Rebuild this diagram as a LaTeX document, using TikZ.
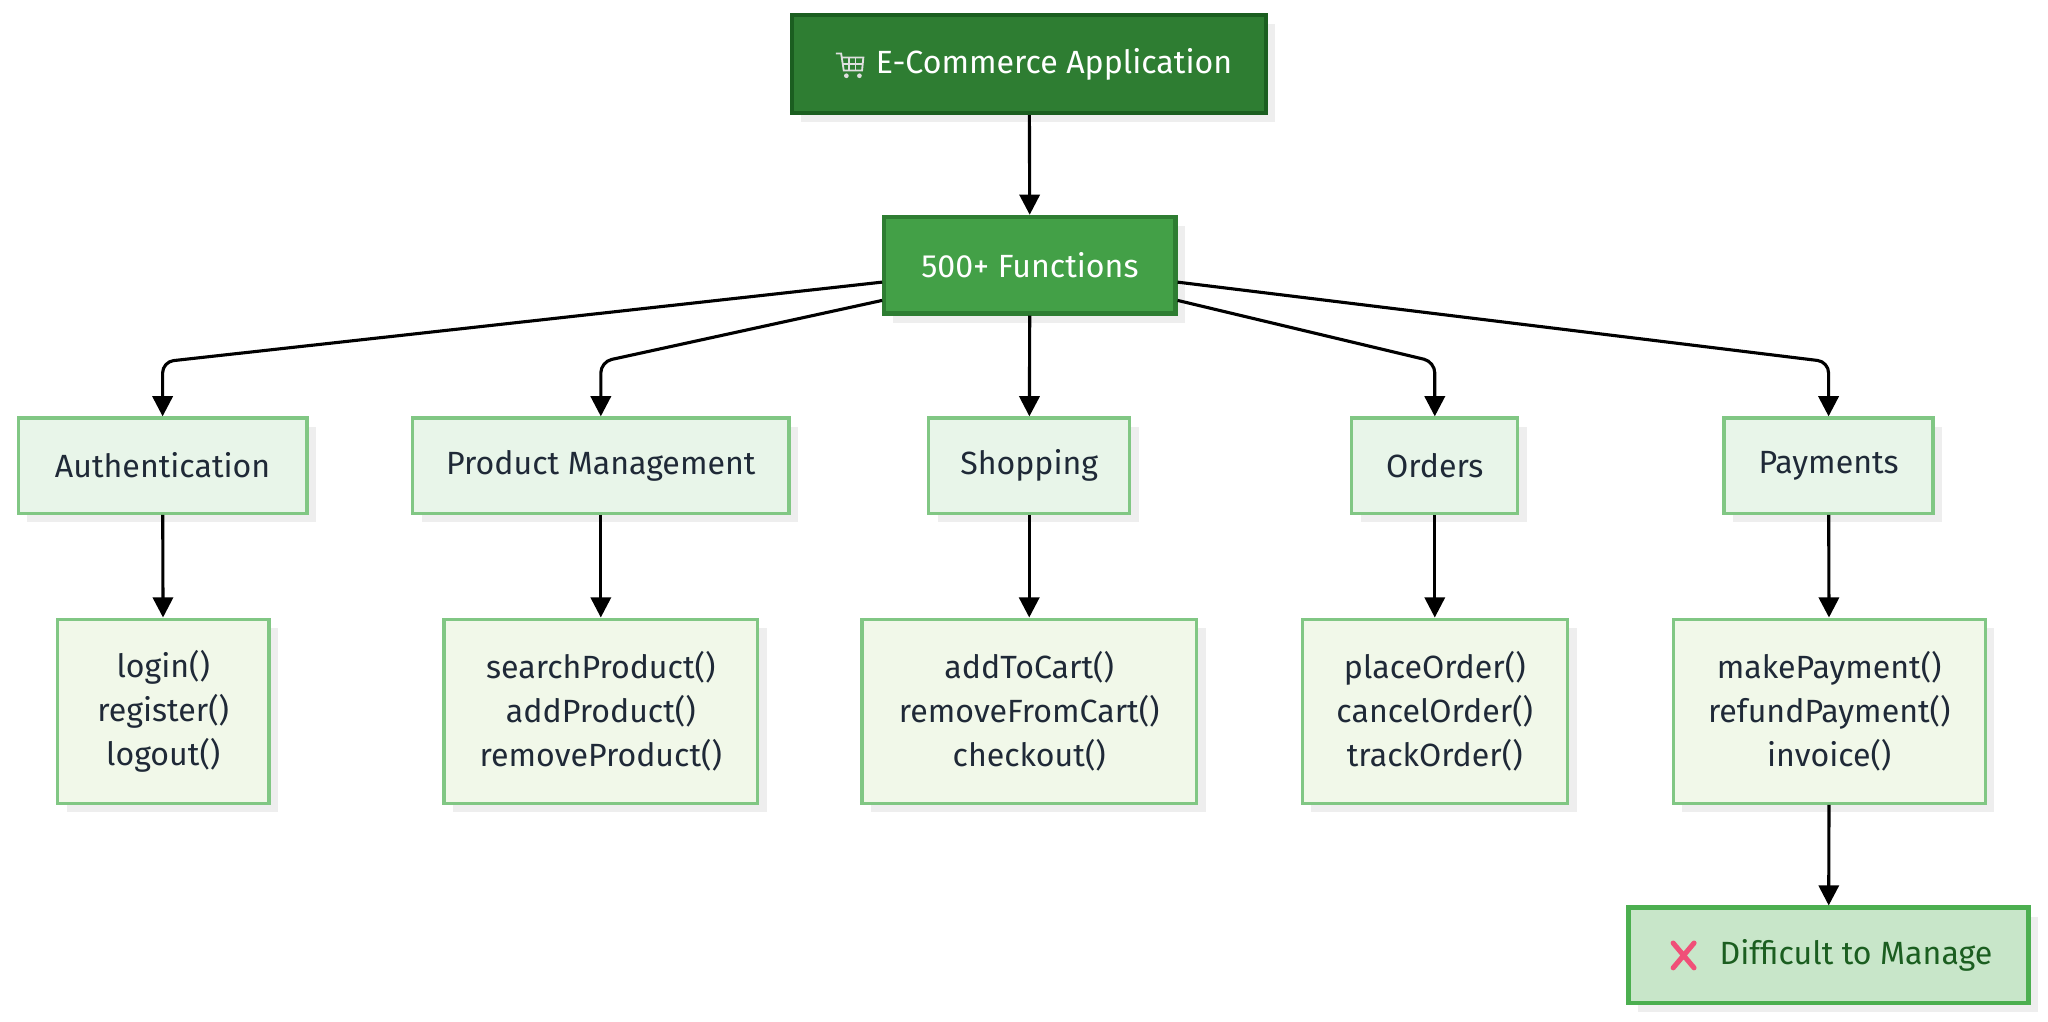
\documentclass[tikz,border=0pt]{standalone}
\usepackage{fontspec}
\setmainfont{Fira Sans}
\usetikzlibrary{calc,arrows.meta}
\definecolor{dg}{HTML}{2E7D32}
\definecolor{dgb}{HTML}{1B5E20}
\definecolor{mg}{HTML}{43A047}
\definecolor{lb}{HTML}{81C784}
\definecolor{l1}{HTML}{E8F5E9}
\definecolor{l2}{HTML}{F1F8E9}
\definecolor{l3}{HTML}{C8E6C9}
\definecolor{l3b}{HTML}{4CAF50}
\definecolor{tx}{HTML}{1F2937}
\definecolor{sh}{HTML}{EEEEEE}
\begin{document}
\begin{tikzpicture}[x=0.05cm,y=-0.05cm,
  box/.style={draw,line width=3.5pt,inner sep=0pt,align=center,font=\fontsize{35}{48}\selectfont,
    preaction={fill=sh,transform canvas={xshift=0.35cm,yshift=-0.35cm}}},
  cat/.style={box,fill=l1,draw=lb,text=tx},
  fn/.style={box,fill=l2,draw=lb,text=tx},
  arr/.style={line width=3.4pt,-{Triangle[length=22pt,width=22pt]},rounded corners=12}]
\useasboundingbox (0,0) rectangle (1568,782);
\node[box,fill=dg,draw=dgb,line width=4.5pt,text=white,minimum width=18.15cm,minimum height=3.75cm] (top) at (788,49) {\hspace*{1.9cm}E-Commerce Application};
\begin{scope}[shift={(650,49)}]
 \draw[white!75!gray,line width=2pt] (-10,-8) -- (-6,-8) -- (-4,5) -- (10,5) -- (11,-5) -- (-5,-5);
 \draw[white!75!gray,line width=1.5pt] (-4.5,0) -- (10.5,0) (0,-5) -- (0,5) (5,-5) -- (5,5);
 \fill[white!75!gray] (-2,9) circle (1.8) (8,9) circle (1.8);
\end{scope}
\node[box,fill=mg,draw=dg,line width=4.5pt,text=white,minimum width=11.15cm,minimum height=3.7cm] (fun) at (788.5,203) {500+ Functions};
\foreach \n/\x/\w/\t in {auth/124.5/221/Authentication, pm/460/288/Product Management, shop/788/154/Shopping, ord/1098.5/127/Orders, pay/1400/160/Payments}
  \node[cat,minimum width=\w*0.05cm,minimum height=3.65cm] (\n) at (\x,356.5) {\t};
\node[fn,minimum width=8.1cm,minimum height=7.05cm] (f1) at (125,544.5) {login()\\register()\\logout()};
\node[fn,minimum width=12cm,minimum height=7.05cm] (f2) at (460,544.5) {searchProduct()\\addProduct()\\removeProduct()};
\node[fn,minimum width=12.8cm,minimum height=7.05cm] (f3) at (788,544.5) {addToCart()\\removeFromCart()\\checkout()};
\node[fn,minimum width=10.15cm,minimum height=7.05cm] (f4) at (1098.5,544.5) {placeOrder()\\cancelOrder()\\trackOrder()};
\node[fn,minimum width=11.95cm,minimum height=7.05cm] (f5) at (1400.5,544.5) {makePayment()\\refundPayment()\\invoice()};
\node[box,fill=l3,draw=l3b,line width=5pt,text=dgb,minimum width=15.3cm,minimum height=3.65cm] (bad) at (1400,731.5) {\hspace*{2.1cm}Difficult to Manage};
\draw[line width=5.5pt,line cap=round,color={rgb,255:red,240;green,80;blue,120}] (1281,722) -- (1297,741) (1297,722) -- (1281,741);
\draw[arr] (top) -- (fun);
\draw[arr] ($(fun.west)+(0,13)$) -- (124.5,277) -- (auth);
\draw[arr] ($(fun.west)+(0,27)$) -- (460,277) -- (pm);
\draw[arr] (fun) -- (shop);
\draw[arr] ($(fun.east)+(0,27)$) -- (1098.5,277) -- (ord);
\draw[arr] ($(fun.east)+(0,13)$) -- (1400,277) -- (pay);
\draw[arr] (auth) -- (f1);
\draw[arr] (pm) -- (f2);
\draw[arr] (shop) -- (f3);
\draw[arr] (ord) -- (f4);
\draw[arr] (pay) -- (f5);
\draw[arr] (f5) -- (bad);
\end{tikzpicture}
\end{document}
